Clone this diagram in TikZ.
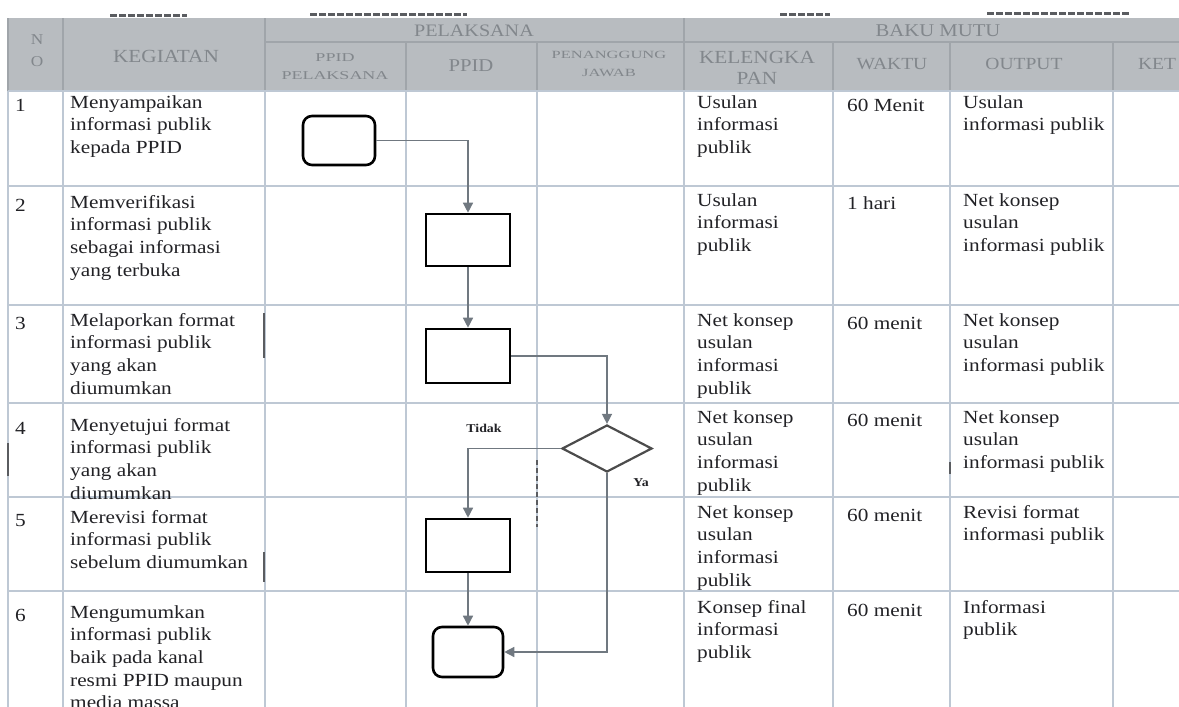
\documentclass[tikz,border=0pt]{standalone}
\usepackage{fontspec}
\setmainfont{Liberation Serif}[FakeStretch=1.15]
\newfontfamily\widefont{Liberation Serif}[FakeStretch=1.5]
\usetikzlibrary{arrows.meta,shapes.geometric}
\definecolor{hdbg}{RGB}{184,188,192}
\definecolor{hdtxt}{RGB}{130,135,140}
\definecolor{hdline}{RGB}{160,165,170}
\definecolor{gridc}{RGB}{190,200,212}
\definecolor{txt}{RGB}{34,34,38}
\definecolor{arrc}{RGB}{112,120,128}
\definecolor{scanc}{RGB}{90,92,96}
\begin{document}
\begin{tikzpicture}[x=1pt,y=-1pt,
  cell/.style={anchor=north west,yshift=12pt,align=left,inner sep=0pt,text=txt,font=\fontsize{18.5}{22.7}\selectfont,execute at begin node=\strut},
  hd/.style={inner sep=0pt,align=center,text=hdtxt},
  gridline/.style={draw=gridc,line width=1.3pt},
  hdgrid/.style={draw=hdline,line width=1.2pt},
  procbox/.style={draw=black,line width=2.6pt,minimum width=84pt,minimum height=52pt,inner sep=0pt,fill=white},
  termbox/.style={procbox,rounded corners=9pt,minimum width=72pt,minimum height=49pt},
  decbox/.style={diamond,draw=black!70,line width=2.2pt,minimum width=90pt,minimum height=47pt,inner sep=0pt,fill=white},
  conn/.style={draw=arrc,line width=1.4pt,-{Triangle[width=10pt,length=10pt]}},
  lbl/.style={inner sep=0pt,text=txt,font=\bfseries\fontsize{12}{14}\selectfont},
  scanmk/.style={draw=scanc,line width=1.2pt},
  topfrag/.style={draw=scanc,line width=3pt,dash pattern=on 7pt off 2pt}
]
\useasboundingbox (0,0) rectangle (1179,707);
\fill[white] (0,0) rectangle (1179,707);

% header band
\fill[hdbg] (8,18) rectangle (1179,91);
\draw[hdgrid] (265,42) -- (1179,42);
\foreach \x in {8,63,265,684} \draw[hdgrid] (\x,18) -- (\x,91);
\foreach \x in {406,537,833,950,1113} \draw[hdgrid] (\x,42) -- (\x,91);

% fragments of text above the table
\draw[topfrag] (110,15) -- (187,15);
\draw[topfrag] (310,14) -- (467,14);
\draw[topfrag] (780,14) -- (830,14);
\draw[topfrag] (987,13) -- (1130,13);

% body grid
\foreach \y in {91,186,305,403,497,591} \draw[gridline] (8,\y) -- (1179,\y);
\foreach \x in {8,63,265,406,537,684,833,950,1113} \draw[gridline] (\x,91) -- (\x,707);

% scan marks
\draw[scanmk] (264,313) -- (264,358);
\draw[scanmk] (264,552) -- (264,582);
\draw[scanmk] (8,443) -- (8,476);
\draw[scanmk,dash pattern=on 5pt off 3pt] (537,460) -- (537,527);
\draw[scanmk] (950,462) -- (950,474);

% header texts
\node[hd,font=\fontsize{15}{22}\selectfont] (hno) at (37,51) {N\\O};
\node[hd,font=\fontsize{18.5}{20}\selectfont] (hkeg) at (166,56) {KEGIATAN};
\node[hd,font=\fontsize{17.5}{20}\selectfont] (hpel) at (474,31) {PELAKSANA};
\node[hd,font=\widefont\fontsize{12}{18}\selectfont] (hppidp) at (335,67) {PPID\\PELAKSANA};
\node[hd,font=\fontsize{18}{20}\selectfont] (hppid) at (471,66) {PPID};
\node[hd,font=\widefont\fontsize{11}{18}\selectfont] (hpj) at (609,64) {PENANGGUNG\\JAWAB};
\node[hd,font=\fontsize{18.5}{21}\selectfont] (hkel) at (757,68) {KELENGKA\\PAN};
\node[hd,font=\fontsize{18}{20}\selectfont] (hbaku) at (938,31) {BAKU MUTU};
\node[hd,font=\fontsize{17}{20}\selectfont] (hwaktu) at (892,64) {WAKTU};
\node[hd,font=\fontsize{17}{20}\selectfont] (hout) at (1024,64) {OUTPUT};
\node[hd,font=\fontsize{17}{20}\selectfont] (hket) at (1157,64) {KET};

% numbers
\node[cell] (n1) at (15,107) {1};
\node[cell] (n2) at (15,207) {2};
\node[cell] (n3) at (15,325) {3};
\node[cell] (n4) at (15,430) {4};
\node[cell] (n5) at (15,522) {5};
\node[cell] (n6) at (15,617) {6};

% kegiatan
\node[cell] (k1) at (70,107) {Menyampaikan\\informasi publik\\kepada PPID};
\node[cell] (k2) at (70,207) {Memverifikasi\\informasi publik\\sebagai informasi\\yang terbuka};
\node[cell] (k3) at (70,325) {Melaporkan format\\informasi publik\\yang akan\\diumumkan};
\node[cell] (k4) at (70,430) {Menyetujui format\\informasi publik\\yang akan\\diumumkan};
\node[cell] (k5) at (70,522) {Merevisi format\\informasi publik\\sebelum diumumkan};
\node[cell] (k6) at (70,617) {Mengumumkan\\informasi publik\\baik pada kanal\\resmi PPID maupun\\media massa};

% kelengkapan
\node[cell] (l1) at (697,107) {Usulan\\informasi\\publik};
\node[cell] (l2) at (697,205) {Usulan\\informasi\\publik};
\node[cell] (l3) at (697,325) {Net konsep\\usulan\\informasi\\publik};
\node[cell] (l4) at (697,422) {Net konsep\\usulan\\informasi\\publik};
\node[cell] (l5) at (697,517) {Net konsep\\usulan\\informasi\\publik};
\node[cell] (l6) at (697,612) {Konsep final\\informasi\\publik};

% waktu
\node[cell] (w1) at (847,107) {60 Menit};
\node[cell] (w2) at (847,205) {1 hari};
\node[cell] (w3) at (847,325) {60 menit};
\node[cell] (w4) at (847,422) {60 menit};
\node[cell] (w5) at (847,517) {60 menit};
\node[cell] (w6) at (847,612) {60 menit};

% output
\node[cell] (o1) at (963,107) {Usulan\\informasi publik};
\node[cell] (o2) at (963,205) {Net konsep\\usulan\\informasi publik};
\node[cell] (o3) at (963,325) {Net konsep\\usulan\\informasi publik};
\node[cell] (o4) at (963,422) {Net konsep\\usulan\\informasi publik};
\node[cell] (o5) at (963,517) {Revisi format\\informasi publik};
\node[cell] (o6) at (963,612) {Informasi\\publik};

% flowchart
\node[termbox] (t1) at (339,140.5) {};
\node[procbox] (b2) at (468,240) {};
\node[procbox,minimum height=54pt] (b3) at (468,356) {};
\node[decbox] (d4) at (607,448.5) {};
\node[procbox,minimum height=53pt] (b5) at (468,545.5) {};
\node[termbox,minimum width=70pt,minimum height=50pt] (t6) at (468,652) {};

\draw[conn] (t1.east) -| (b2.north);
\draw[conn] (b2.south) -- (b3.north);
\draw[conn] (b3.east) -| (d4.north);
\draw[conn] (d4.west) -| (b5.north);
\draw[conn] (b5.south) -- (t6.north);
\draw[conn] (d4.south) |- (t6.east);

\node[lbl] (tidak) at (484,428) {Tidak};
\node[lbl] (ya) at (641,483) {Ya};
\end{tikzpicture}
\end{document}
